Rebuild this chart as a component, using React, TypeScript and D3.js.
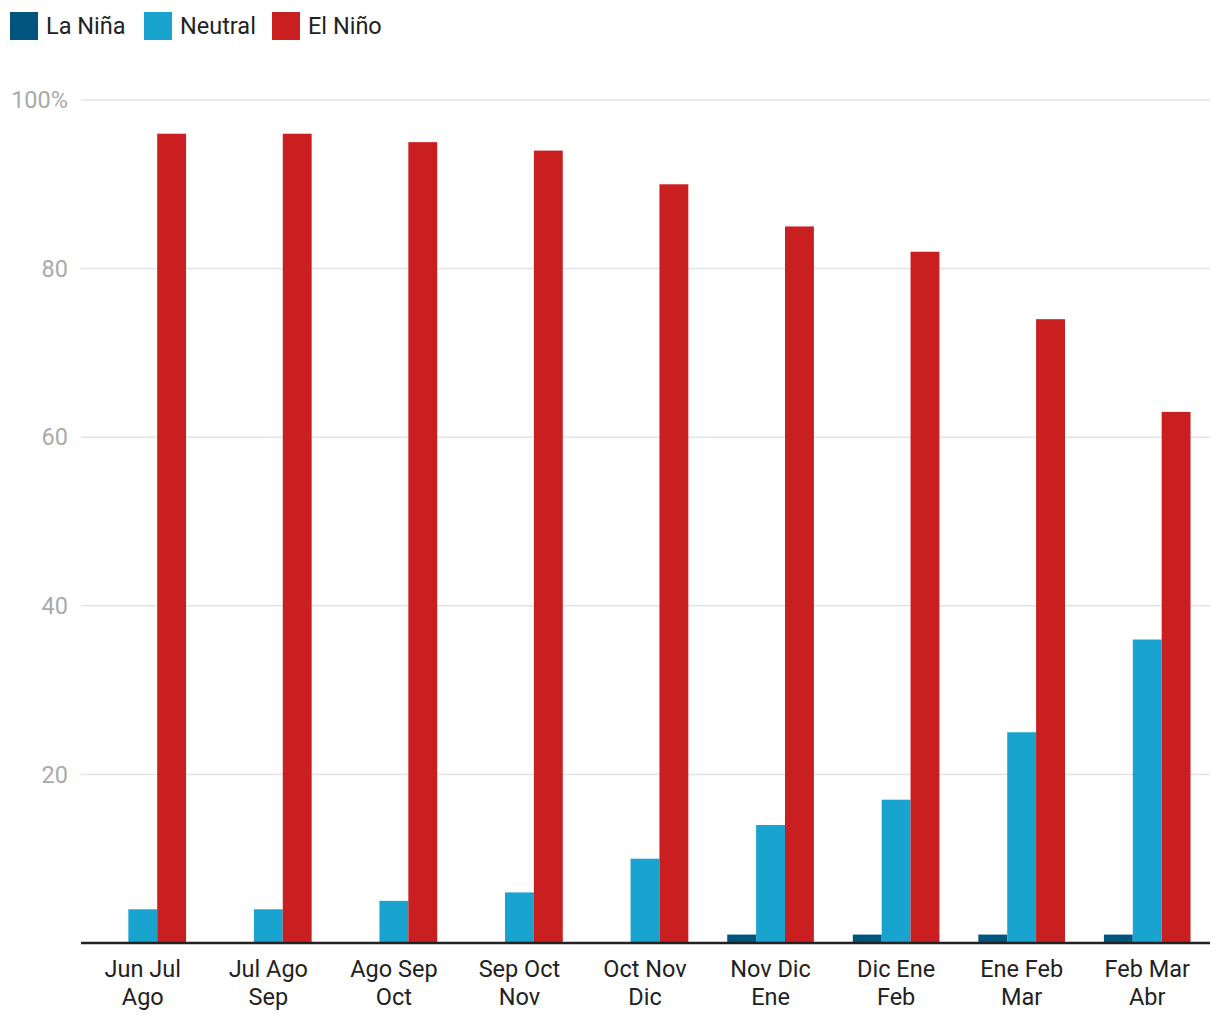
import { scaleBand, scaleLinear } from "d3";

const categories = [
  ["Jun Jul", "Ago"],
  ["Jul Ago", "Sep"],
  ["Ago Sep", "Oct"],
  ["Sep Oct", "Nov"],
  ["Oct Nov", "Dic"],
  ["Nov Dic", "Ene"],
  ["Dic Ene", "Feb"],
  ["Ene Feb", "Mar"],
  ["Feb Mar", "Abr"],
];
const seriesNames = ["La Niña", "Neutral", "El Niño"];
const laNina = [0, 0, 0, 0, 0, 1, 1, 1, 1];
const neutral = [4, 4, 5, 6, 10, 14, 17, 25, 36];
const elNino = [96, 96, 95, 94, 90, 85, 82, 74, 63];
const yTicks = [20, 40, 60, 80, 100];
const colors = ["#00557f", "#19a3cf", "#c91f20"];

const width = 1220;
const height = 1020;
const left = 81;
const right = 1210;
const top = 100;
const bottom = 943;
const font = "Roboto, sans-serif";
const legendX = [10, 144, 272];

export default function App() {
  const series = [laNina, neutral, elNino];
  const keys = categories.map((c) => c.join(" "));
  const x = scaleBand().domain(keys).range([80, 1210]).paddingInner(0.31).paddingOuter(0.155);
  const inner = scaleBand().domain(seriesNames).range([0, x.bandwidth()]);
  const y = scaleLinear().domain([0, 100]).range([bottom, top]);

  return (
    <svg
      width={width}
      height={height}
      style={{ position: "absolute", left: 0, top: 0 }}
      fontFamily={font}
    >
      {seriesNames.map((name, i) => (
        <g key={name}>
          <rect x={legendX[i]} y={12} width={28} height={28} fill={colors[i]} />
          <text x={legendX[i] + 36} y={34} fontSize={23.5} fill="#222">
            {name}
          </text>
        </g>
      ))}
      {yTicks.map((t) => (
        <g key={t}>
          <line x1={left} x2={right} y1={y(t)} y2={y(t)} stroke="#e3e3e3" strokeWidth={1.5} />
          <text
            x={68}
            y={y(t)}
            dy="0.35em"
            textAnchor="end"
            fontSize={23.5}
            fill="#aaaaaa"
          >
            {t === 100 ? "100%" : t}
          </text>
        </g>
      ))}
      {keys.map((k, ci) => (
        <g key={k} transform={`translate(${x(k)},0)`}>
          {series.map((s, si) =>
            s[ci] > 0 ? (
              <rect
                key={si}
                x={inner(seriesNames[si])}
                y={y(s[ci])}
                width={inner.bandwidth()}
                height={bottom - y(s[ci])}
                fill={colors[si]}
              />
            ) : null
          )}
          <text
            x={x.bandwidth() / 2}
            y={977}
            textAnchor="middle"
            fontSize={23.5}
            fill="#222"
          >
            <tspan x={x.bandwidth() / 2}>{categories[ci][0]}</tspan>
            <tspan x={x.bandwidth() / 2} dy={28}>
              {categories[ci][1]}
            </tspan>
          </text>
        </g>
      ))}
      <line x1={left} x2={right} y1={bottom} y2={bottom} stroke="#222" strokeWidth={2.5} />
    </svg>
  );
}
